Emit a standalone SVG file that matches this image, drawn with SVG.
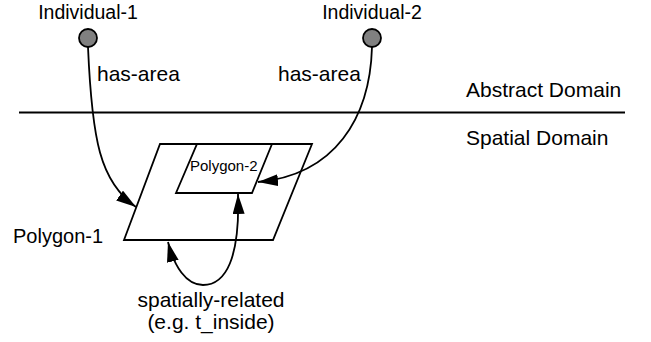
<svg xmlns="http://www.w3.org/2000/svg" width="651" height="342" viewBox="0 0 651 342">
<style>
text{font-family:"Liberation Sans",Arial,sans-serif;font-size:21px;fill:#000}
.ind-label{font-size:19.5px}
.poly1{font-size:20px}
.small{font-size:15px}
.ln{fill:none;stroke:#000;stroke-width:1.8}
.ind{fill:#808080;stroke:#000;stroke-width:1.8}
</style>
<defs>
<marker id="ah" viewBox="0 0 20 12" refX="20" refY="6" markerWidth="20" markerHeight="12" markerUnits="userSpaceOnUse" orient="auto-start-reverse">
<path d="M0,0 L20,6 L0,12 Z" fill="#000"/>
</marker>
</defs>
<g id="domain-line">
<line class="ln" x1="19" y1="112.5" x2="625" y2="112.5"/>
<text x="466" y="97">Abstract Domain</text>
<text x="466" y="145">Spatial Domain</text>
</g>
<g id="individual-1">
<circle class="ind" cx="88" cy="38" r="9"/>
<text class="ind-label" x="88" y="19" text-anchor="middle">Individual-1</text>
</g>
<g id="individual-2">
<circle class="ind" cx="372" cy="38" r="9"/>
<text class="ind-label" x="372" y="19" text-anchor="middle">Individual-2</text>
</g>
<g id="polygon-1">
<polygon class="ln" points="160,144 312,144 273,240 124,240"/>
<text class="poly1" x="13" y="243">Polygon-1</text>
</g>
<g id="polygon-2">
<polygon class="ln" points="197,144 272,144 252,193 176,193"/>
<text class="small" x="190" y="171">Polygon-2</text>
</g>
<g id="connectors">
<path class="ln" d="M88,47 C92,140 100,182 136,207" marker-end="url(#ah)"/>
<text x="97" y="81">has-area</text>
<path class="ln" d="M372,47 C370,118 335,175 258,182" marker-end="url(#ah)"/>
<text x="278" y="81">has-area</text>
<path class="ln" d="M238,194 C240,258 226,285 203,285 C186,285 174,266 168,242" marker-start="url(#ah)" marker-end="url(#ah)"/>
<text x="211" y="307" text-anchor="middle">spatially-related</text>
<text x="211" y="329" text-anchor="middle">(e.g. t_inside)</text>
</g>
</svg>
